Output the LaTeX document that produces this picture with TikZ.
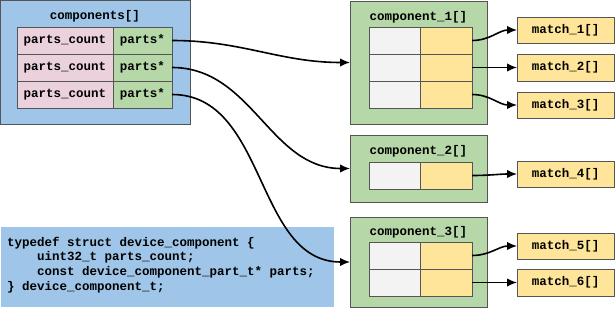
\documentclass[tikz,border=0pt]{standalone}
\usepackage{fontspec}
\newfontfamily\cf{Liberation Mono}
\usetikzlibrary{arrows.meta}
\definecolor{cblue}{HTML}{9FC5E8}
\definecolor{cgreen}{HTML}{B6D7A8}
\definecolor{cyellow}{HTML}{FFE599}
\definecolor{cpink}{HTML}{EAD1DC}
\definecolor{cgray}{HTML}{F3F3F3}
\definecolor{cline}{HTML}{555555}
\begin{document}
\begin{tikzpicture}[x=1pt,y=-1pt,
  box/.style={draw=cline,line width=0.9pt,anchor=north west,inner sep=0pt,outer sep=0pt},
  cell/.style={box,minimum height=27pt,font=\cf\bfseries\fontsize{12.5}{14}\selectfont},
  pinkcell/.style={cell,fill=cpink,minimum width=96pt},
  greencell/.style={cell,fill=cgreen,minimum width=59pt},
  graycell/.style={cell,fill=cgray,minimum width=51pt},
  yellowcell/.style={cell,fill=cyellow,minimum width=52pt},
  compbox/.style={box,fill=cgreen,minimum width=137pt},
  matchbox/.style={box,fill=cyellow,minimum width=97pt,font=\cf\bfseries\fontsize{12.5}{14}\selectfont},
  title/.style={anchor=base,inner sep=0pt,font=\cf\bfseries\fontsize{12.5}{14}\selectfont},
  codeline/.style={anchor=base west,inner sep=0pt,font=\cf\bfseries\fontsize{12.5}{14}\selectfont},
  arr/.style={line width=1.6pt,-{Latex[length=10pt,width=8.5pt]}}
]
\useasboundingbox (0,0) rectangle (615,308);
% components box
\node[box,fill=cblue,minimum width=189.5pt,minimum height=123.5pt] (comps) at (0.5,0.5) {};
\node[title] (compst) at (95,19) {components[]};
\foreach \i/\y in {1/27,2/54,3/81}{
  \node[pinkcell] (pc\i) at (17,\y) {parts\_count};
  \node[greencell] (pt\i) at (113,\y) {parts*};
}
% code box
\node[box,draw=none,fill=cblue,minimum width=333.5pt,minimum height=80pt] (code) at (0.5,227) {};
\node[codeline] (c1) at (7,246) {typedef struct device\_component \{};
\node[codeline] (c2) at (37,260.7) {uint32\_t parts\_count;};
\node[codeline] (c3) at (37,275.4) {const device\_component\_part\_t* parts;};
\node[codeline] (c4) at (7,290.1) {\} device\_component\_t;};
% component_1
\node[compbox,minimum height=123pt] (comp1) at (350,1) {};
\node[title] (comp1t) at (418.5,20) {component\_1[]};
\foreach \i/\y in {1/27,2/54,3/81}{
  \node[graycell] (g1\i) at (369,\y) {};
  \node[yellowcell] (y1\i) at (420,\y) {};
}
% component_2
\node[compbox,minimum height=67pt] (comp2) at (350,135) {};
\node[title] (comp2t) at (418.5,154) {component\_2[]};
\node[graycell] (g21) at (369,162) {};
\node[yellowcell] (y21) at (420,162) {};
% component_3
\node[compbox,minimum height=90pt] (comp3) at (350,217) {};
\node[title] (comp3t) at (418.5,235) {component\_3[]};
\foreach \i/\y in {1/242,2/269}{
  \node[graycell] (g3\i) at (369,\y) {};
  \node[yellowcell] (y3\i) at (420,\y) {};
}
% matches
\node[matchbox,minimum height=26pt] (m1) at (517,17) {match\_1[]};
\node[matchbox,minimum height=27pt] (m2) at (517,54) {match\_2[]};
\node[matchbox,minimum height=26pt] (m3) at (517,92) {match\_3[]};
\node[matchbox,minimum height=26pt] (m4) at (517,161) {match\_4[]};
\node[matchbox,minimum height=26pt] (m5) at (517,233) {match\_5[]};
\node[matchbox,minimum height=27pt] (m6) at (517,269) {match\_6[]};
% arrows
\draw[arr] (pt1.east) to[out=0,in=180] (comp1.west);
\draw[arr] (pt2.east) to[out=0,in=180] (comp2.west);
\draw[arr] (pt3.east) to[out=0,in=180] (comp3.west);
\draw[arr] (y11.east) to[out=0,in=180] (m1.west);
\draw[arr] (y12.east) to[out=0,in=180] (m2.west);
\draw[arr] (y13.east) to[out=0,in=180] (m3.west);
\draw[arr] (y21.east) to[out=0,in=180] (m4.west);
\draw[arr] (y31.east) to[out=0,in=180] (m5.west);
\draw[arr] (y32.east) to[out=0,in=180] (m6.west);
\end{tikzpicture}
\end{document}
